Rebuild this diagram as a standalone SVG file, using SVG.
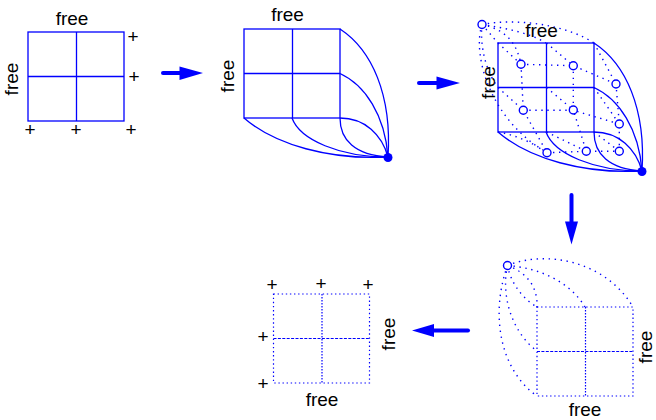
<svg xmlns="http://www.w3.org/2000/svg" width="656" height="420" viewBox="0 0 656 420">
<style>
.g{fill:none;stroke:#00f;stroke-width:1.3}
.d{fill:none;stroke:#00f;stroke-width:1.4;stroke-dasharray:1.4 4.6}
.r{fill:none;stroke:#00f;stroke-width:1.2;stroke-dasharray:1.4 2.7}
.m{fill:none;stroke:#00f;stroke-width:1.2;stroke-dasharray:1.6 1.4}
.h{fill:none;stroke:#00f;stroke-width:1;stroke-dasharray:3 1.4}
.o{fill:#fff;stroke:#00f;stroke-width:1.4}
.f{fill:#00f;stroke:none}
.s{fill:none;stroke:#00f;stroke-width:4;stroke-linecap:round}
text{font-family:"Liberation Sans",Arial,sans-serif;font-size:19px;fill:#000}
.c{text-anchor:middle}
</style>
<defs>
<g id="curves" class="g">
<path d="M96,0C128,21 148,66 144,128"/>
<path d="M96,44.500C121,56 141,86 144,128"/>
<path d="M96,89C121,89 138,106 144,128"/>
<path d="M96,89C96,111 111,126 144,128"/>
<path d="M48,89C56,111 96,128 144,128"/>
<path d="M0,89C31,116 86,131 144,128"/>
</g>
</defs>
<g id="connectors">
<path class="s" d="M163,73H181"/><polygon class="f" points="179.500,66.500 203,73 179.500,80"/>
<path class="s" d="M419,83H438"/><polygon class="f" points="436.500,76.500 460,83 436.500,89.500"/>
<path class="s" d="M571.500,195V223"/><polygon class="f" points="565,221.500 578,221.500 571.500,244.500"/>
<path class="s" d="M468,330.500H432"/><polygon class="f" points="434,324 412,330.500 434,337"/>
</g>
<g id="grid-1">
<rect class="g" x="28" y="32" width="96" height="89"/>
<path class="g" d="M76.500,32V121M28,76.500H124"/>
<text class="c" x="72" y="25">free</text>
<text class="c" transform="translate(18,79) rotate(-90)">free</text>
<text class="c" x="133" y="43">+</text><text class="c" x="134" y="83">+</text>
<text class="c" x="30" y="136">+</text><text class="c" x="76" y="136">+</text><text class="c" x="131" y="136">+</text>
</g>
<g id="grid-2">
<rect class="g" x="244" y="29" width="96" height="89"/>
<path class="g" d="M292.500,29V118M244,73.500H340"/>
<use href="#curves" x="244" y="29"/>
<circle class="f" cx="388" cy="157.500" r="4.500"/>
<text class="c" x="287.500" y="21">free</text>
<text class="c" transform="translate(234,76) rotate(-90)">free</text>
</g>
<g id="grid-3">
<rect class="g" x="498" y="43" width="96" height="89"/>
<path class="g" d="M546.500,43V132M498,87.500H594"/>
<use href="#curves" x="498" y="43"/>
<circle class="f" cx="642" cy="171.500" r="4.500"/>
<g class="d">
<path d="M482,24.500C515,18 565,24 594,43"/>
<path d="M482,24.500C505,28 530,33 546,43"/>
<path d="M482,24.500L498,43"/>
<path d="M482,24.500C508,30 517,45 521,64"/>
<path d="M482,24.500C480,45 485,70 498,87.500"/>
<path d="M482,24.500C472,55 490,120 547,152.700"/>
<path d="M498,43L521,64.300M546.500,43L573.300,65.700M594,43L616,84"/>
<path d="M498,87.500L523.300,110.300M546.500,87.500L573.300,110M594,87.500L619.300,124"/>
<path d="M498,132C515,135 532,142 547,152.700M546.500,132L586.300,151.300M594,132L619.300,151.300"/>
<path d="M521,64.300L573.300,65.700L616,84M523.300,110.300H573.300L619.300,124M547,152.700L586.300,151.300H619.300"/>
<path d="M521,64.300L523.300,110.300L547,152.700M573.300,65.700V110L586.300,151.300M616,84L619.300,124V151.300"/>
</g>
<circle class="o" cx="482" cy="24.500" r="4"/>
<circle class="o" cx="521" cy="64.300" r="4"/><circle class="o" cx="573.300" cy="65.700" r="4"/><circle class="o" cx="616" cy="84" r="4"/>
<circle class="o" cx="523.300" cy="110.300" r="4"/><circle class="o" cx="573.300" cy="110" r="4"/><circle class="o" cx="619.300" cy="124" r="4"/>
<circle class="o" cx="547" cy="152.700" r="4"/><circle class="o" cx="586.300" cy="151.300" r="4"/><circle class="o" cx="619.300" cy="151.300" r="4"/>
<text class="c" x="541.500" y="37">free</text>
<text class="c" transform="translate(495,82.500) rotate(-90)">free</text>
</g>
<g id="grid-4">
<rect class="r" x="537" y="307" width="96" height="89"/>
<path class="m" d="M585.500,307V396"/>
<path class="h" d="M537,351.500H633"/>
<g class="d">
<path d="M507.500,265.500C545,250 605,260 633,307"/>
<path d="M507.500,265.500C540,268 570,282 585,307"/>
<path d="M507.500,265.500C525,272 538,285 537,307"/>
<path d="M507.500,265.500C510,280 520,297 537,307"/>
<path d="M507.500,265.500C500,300 515,335 537,351"/>
<path d="M507.500,265.500C490,315 500,370 537,396"/>
</g>
<circle class="o" cx="507.500" cy="265.500" r="4"/>
<text class="c" x="585" y="415.500">free</text>
<text class="c" transform="translate(651.500,347) rotate(-90)">free</text>
</g>
<g id="grid-5">
<rect class="r" x="273.500" y="294" width="96" height="89"/>
<path class="m" d="M322,294V383"/>
<path class="h" d="M273.500,338.500H369.500"/>
<text class="c" x="322" y="406">free</text>
<text class="c" transform="translate(395,334) rotate(-90)">free</text>
<text class="c" x="272" y="291">+</text><text class="c" x="321" y="290">+</text><text class="c" x="368" y="291">+</text>
<text class="c" x="263" y="343">+</text><text class="c" x="263" y="390">+</text>
</g>
</svg>
